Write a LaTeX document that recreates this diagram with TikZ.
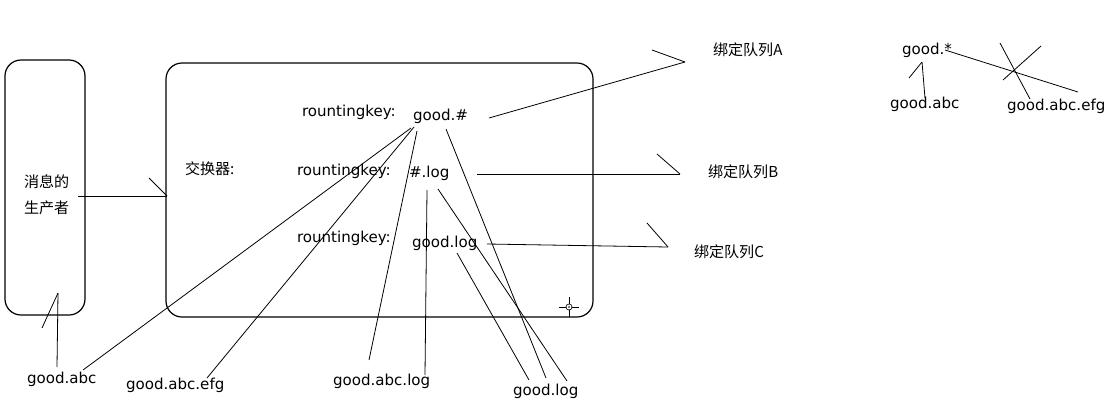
\documentclass[tikz,border=0pt]{standalone}
\usepackage{fontspec}
\usetikzlibrary{calc}
\setmainfont{DejaVu Sans}
\newfontfamily\cjk{Noto Sans CJK SC}
\begin{document}
\begin{tikzpicture}[x=0.75pt,y=-0.75pt,
  line width=0.75pt,
  every node/.style={inner sep=0pt,outer sep=0pt,font=\fontsize{11.3pt}{13.5pt}\selectfont},
  lbl/.style={anchor=west},
  pen/.style={line width=0.6pt},
  frame/.style={draw,line width=0.9pt,rounded corners=12pt}]
\useasboundingbox (0,0) rectangle (1110,408);

% boxes
\draw[frame] (5,60) rectangle (85,315);
\draw[frame] (166,63) rectangle (593,317);

% texts inside the boxes
\node[lbl] (prodA) at (24,182) {\cjk 消息的};
\node[lbl] (prodB) at (24,208) {\cjk 生产者};
\node[lbl] (exch) at (185,169) {\cjk 交换器:};
\node[lbl] (rk1) at (302,112) {rountingkey:};
\node[lbl] (rk2) at (297,171) {rountingkey:};
\node[lbl] (rk3) at (297,238) {rountingkey:};
\node[lbl] (kA) at (413,116) {good.\#};
\node[lbl] (kB) at (409,173) {\#.log};
\node[lbl] (kC) at (412,243) {good.log};

% queues
\node[lbl] (qA) at (713,50) {\cjk 绑定队列A};
\node[lbl] (qB) at (708,172) {\cjk 绑定队列B};
\node[lbl] (qC) at (694,252) {\cjk 绑定队列C};

% sample routing keys
\node[lbl] (m1) at (27,379) {good.abc};
\node[lbl] (m2) at (126,385) {good.abc.efg};
\node[lbl] (m3) at (333,381) {good.abc.log};
\node[lbl] (m4) at (513,391) {good.log};

% star example
\node[lbl] (sK) at (902,50) {good.*};
\node[lbl] (s1) at (890,104) {good.abc};
\node[lbl] (s2) at (1007,106) {good.abc.efg};

% connector end points
\coordinate (p0) at (78,196);   \coordinate (p1) at (167,196);  \coordinate (p1b) at (149,178);
\coordinate (a0) at (489,118);  \coordinate (a1) at (685,62);   \coordinate (a1b) at (652,50);
\coordinate (b0) at (477,174);  \coordinate (b1) at (680,174);  \coordinate (b1b) at (657,154);
\coordinate (c0) at (487,244);  \coordinate (c1) at (668,247);  \coordinate (c1b) at (647,223);
\coordinate (m1t) at (57,367);  \coordinate (m1h) at (58,293);  \coordinate (m1b) at (42,328);

\coordinate (kA1) at (411,128); \coordinate (kA2) at (414,127);
\coordinate (kA3) at (417,131); \coordinate (kA4) at (446,129);
\coordinate (kB1) at (427,190); \coordinate (kB2) at (438,189);
\coordinate (kC1) at (457,253);

\coordinate (e1) at (83,370);   \coordinate (e2) at (207,378);
\coordinate (e3) at (369,360);  \coordinate (e4) at (425,375);
\coordinate (e5) at (529,380);  \coordinate (e6) at (546,378);
\coordinate (e7) at (567,381);

\coordinate (sK1) at (922,62);  \coordinate (sK1e) at (925,98); \coordinate (sK1b) at (909,78);
\coordinate (sK2) at (945,50);  \coordinate (sK2e) at (1078,92);
\coordinate (x1) at (1000,43);  \coordinate (x1e) at (1030,99);
\coordinate (x2) at (1041,46);  \coordinate (x2e) at (1003,80);

% producer to exchanger
\draw[pen] (p0) -- (p1);
\draw[pen] (p1b) -- (p1);

% exchanger to queues
\draw[pen] (a0) -- (a1);  \draw[pen] (a1b) -- (a1);
\draw[pen] (b0) -- (b1);  \draw[pen] (b1b) -- (b1);
\draw[pen] (c0) -- (c1);  \draw[pen] (c1b) -- (c1);

% message into producer
\draw[pen] (m1t) -- (m1h);
\draw[pen] (m1b) -- (m1h);

% routing key matches
\draw[pen] (kA1) -- (e1);
\draw[pen] (kA2) -- (e2);
\draw[pen] (kA3) -- (e3);
\draw[pen] (kA4) -- (e6);
\draw[pen] (kB1) -- (e4);
\draw[pen] (kB2) -- (e7);
\draw[pen] (kC1) -- (e5);

% star wildcard example
\draw[pen] (sK1) -- (sK1e);
\draw[pen] (sK1b) -- (sK1);
\draw[pen] (sK2) -- (sK2e);
\draw[pen] (x1) -- (x1e);
\draw[pen] (x2) -- (x2e);

% cursor mark
\coordinate (cur) at (569,307);
\draw[line width=0.6pt] ($(cur)+(-10,0)$) -- ($(cur)+(-3,0)$)
  ($(cur)+(3,0)$) -- ($(cur)+(10,0)$)
  ($(cur)+(0,-10)$) -- ($(cur)+(0,-3)$)
  ($(cur)+(0,3)$) -- ($(cur)+(0,10)$);
\draw[line width=0.5pt] (cur) circle (3);
\fill (cur) circle (0.8);
\end{tikzpicture}
\end{document}
